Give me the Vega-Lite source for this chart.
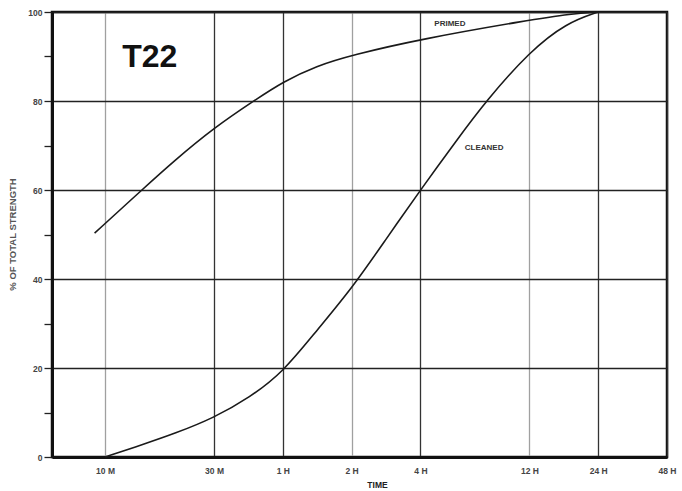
{
  "$schema": "https://vega.github.io/schema/vega-lite/v6.json",
  "width": 615,
  "height": 445,
  "autosize": "none",
  "padding": {"left": 52, "top": 12, "right": 15, "bottom": 34},
  "background": "white",
  "config": {
    "view": {"stroke": "#111", "strokeWidth": 2.5},
    "font": "Liberation Sans"
  },
  "datasets": {
    "curves": [
      {"series": "PRIMED", "minutes": 9.0, "pct": 50.3},
      {"series": "PRIMED", "minutes": 14.7, "pct": 60.3},
      {"series": "PRIMED", "minutes": 20, "pct": 66.5},
      {"series": "PRIMED", "minutes": 30, "pct": 74.0},
      {"series": "PRIMED", "minutes": 45.3, "pct": 80.2},
      {"series": "PRIMED", "minutes": 60, "pct": 84.3},
      {"series": "PRIMED", "minutes": 84.4, "pct": 87.9},
      {"series": "PRIMED", "minutes": 120, "pct": 90.3},
      {"series": "PRIMED", "minutes": 240, "pct": 93.9},
      {"series": "PRIMED", "minutes": 720, "pct": 98.2},
      {"series": "PRIMED", "minutes": 1100, "pct": 99.6},
      {"series": "PRIMED", "minutes": 1440, "pct": 100},
      {"series": "CLEANED", "minutes": 10, "pct": 0},
      {"series": "CLEANED", "minutes": 15, "pct": 3.0},
      {"series": "CLEANED", "minutes": 20, "pct": 5.2},
      {"series": "CLEANED", "minutes": 30, "pct": 8.8},
      {"series": "CLEANED", "minutes": 43, "pct": 13.4},
      {"series": "CLEANED", "minutes": 60, "pct": 19.0},
      {"series": "CLEANED", "minutes": 84, "pct": 28.3},
      {"series": "CLEANED", "minutes": 120, "pct": 37.8},
      {"series": "CLEANED", "minutes": 170, "pct": 49},
      {"series": "CLEANED", "minutes": 240, "pct": 60},
      {"series": "CLEANED", "minutes": 346, "pct": 71.2},
      {"series": "CLEANED", "minutes": 465, "pct": 80},
      {"series": "CLEANED", "minutes": 720, "pct": 91.1},
      {"series": "CLEANED", "minutes": 1049, "pct": 97.6},
      {"series": "CLEANED", "minutes": 1440, "pct": 100}
    ],
    "labels": [
      {"label": "PRIMED", "minutes": 323, "pct": 97.3},
      {"label": "CLEANED", "minutes": 456, "pct": 69.4}
    ],
    "title": [
      {"label": "T22", "minutes": 15.7, "pct": 89.9}
    ]
  },
  "layer": [
    {
      "data": {"name": "curves"},
      "mark": {"type": "line", "interpolate": "basis", "color": "#1a1a1a", "strokeWidth": 1.6},
      "encoding": {
        "x": {
          "field": "minutes",
          "type": "quantitative",
          "scale": {"type": "log", "domain": [5.86, 2880], "nice": false},
          "axis": {
            "values": [10, 30, 60, 120, 240, 720, 1440, 2880],
            "labelExpr": "datum.value < 60 ? datum.value + ' M' : (datum.value / 60) + ' H'",
            "title": "TIME",
            "titleFont": "Liberation Sans",
            "titleFontSize": 8.5,
            "titleFontWeight": "bold",
            "titleColor": "#222",
            "titleX": 325,
            "titleY": 23,
            "titleBaseline": "top",
            "labelFont": "Liberation Sans",
            "labelFontSize": 8.5,
            "labelFontWeight": "bold",
            "labelColor": "#444",
            "labelPadding": 9,
            "labelFlush": false,
            "labelOverlap": false,
            "ticks": false,
            "domainColor": "#111",
            "domainWidth": 3,
            "grid": true,
            "gridColor": {"condition": {"test": "indexof([10,120,720], datum.value) >= 0", "value": "#a0a0a0"}, "value": "#333"},
            "gridWidth": 1.3
          }
        },
        "y": {
          "field": "pct",
          "type": "quantitative",
          "scale": {"domain": [0, 100], "nice": false},
          "axis": {
            "values": [0,5,10,15,20,25,30,35,40,45,50,55,60,65,70,75,80,85,90,95,100],
            "labelExpr": "datum.value % 20 === 0 ? datum.label : ''",
            "title": "% OF TOTAL STRENGTH",
            "titleFont": "Liberation Sans",
            "titleFontSize": 9.5,
            "titleFontWeight": "bold",
            "titleColor": "#555",
            "titleX": -35,
            "titleY": 222,
            "titleAngle": -90,
            "titleAlign": "center",
            "titleBaseline": "bottom",
            "labelFont": "Liberation Sans",
            "labelFontSize": 8.5,
            "labelFontWeight": "bold",
            "labelColor": "#444",
            "labelPadding": 2,
            "tickSize": 8,
            "tickColor": "#222",
            "tickWidth": 1.3,
            "domainColor": "#111",
            "domainWidth": 3,
            "grid": true,
            "gridColor": "#222",
            "gridWidth": 1.3,
            "gridOpacity": {"condition": {"test": "datum.value % 20 === 0", "value": 1}, "value": 0}
          }
        },
        "detail": {"field": "series", "type": "nominal"}
      }
    },
    {
      "data": {"name": "labels"},
      "mark": {"type": "text", "font": "Liberation Sans", "fontSize": 8, "fontWeight": "bold", "color": "#333", "align": "center", "baseline": "middle"},
      "encoding": {
        "x": {"field": "minutes", "type": "quantitative"},
        "y": {"field": "pct", "type": "quantitative"},
        "text": {"field": "label", "type": "nominal"}
      }
    },
    {
      "data": {"name": "title"},
      "mark": {"type": "text", "font": "Liberation Sans", "fontSize": 32, "fontWeight": "bold", "color": "#111", "align": "center", "baseline": "middle"},
      "encoding": {
        "x": {"field": "minutes", "type": "quantitative"},
        "y": {"field": "pct", "type": "quantitative"},
        "text": {"field": "label", "type": "nominal"}
      }
    }
  ]
}
